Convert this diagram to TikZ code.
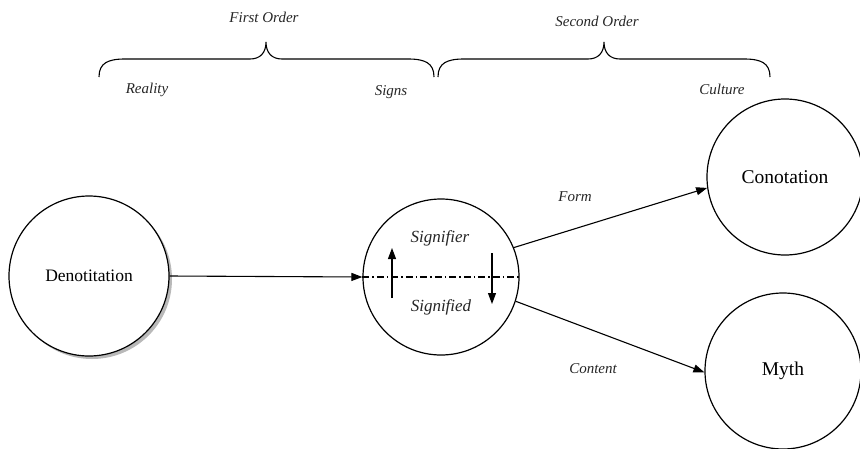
\documentclass[tikz,border=0pt]{standalone}
\usepackage{fontspec}
\setmainfont{Liberation Serif}
\usetikzlibrary{arrows.meta,shadows}

\begin{document}
\begin{tikzpicture}[x=1pt,y=-1pt,
  bigcircle/.style={circle,draw,line width=1.2pt,minimum size=156pt,inner sep=0pt,fill=white},
  lab/.style={font=\fontsize{15}{17}\selectfont\itshape,text=black!85},
  arr/.style={-{Triangle[length=11pt,width=8pt]},line width=1.1pt}]
\useasboundingbox (0,0) rectangle (860,448);
% ORDER LABELS
\node [lab] (first) at (264,17) {First Order};
\node [lab] (second) at (597,21) {Second Order};
\node [lab] (reality) at (147,90) {Reality};
\node [lab] (signs) at (391,92) {Signs};
\node [lab] (culture) at (722,89) {Culture};
% BRACES
\draw [line width=1.1pt] (99,77) .. controls (99,63) and (108,59) .. (125,59) -- (250,59)
  .. controls (260,59) and (266,53) .. (266,42) .. controls (266,53) and (272,59) .. (282,59)
  -- (408,59) .. controls (425,59) and (434,63) .. (434,77);
\draw [line width=1.1pt] (438,77) .. controls (438,63) and (447,59) .. (464,59) -- (588,59)
  .. controls (598,59) and (604,53) .. (604,42) .. controls (604,53) and (610,59) .. (620,59)
  -- (744,59) .. controls (761,59) and (770,63) .. (770,77);
% CIRCLES
\node [bigcircle,minimum size=160pt,font=\fontsize{17.5}{20}\selectfont,
  drop shadow={shadow xshift=3pt,shadow yshift=-3pt,fill=black!55}] (deno) at (89,276) {Denotitation};
\node [bigcircle] (sign) at (441,277) {};
\node [bigcircle,font=\fontsize{19.5}{22}\selectfont] (conn) at (785,177) {Conotation};
\node [bigcircle,font=\fontsize{19.5}{22}\selectfont] (myth) at (783,371) {Myth};
% SIGN PARTS
\node [font=\fontsize{17}{19}\selectfont\itshape,text=black!85] (signifier) at (440,238) {Signifier};
\node [font=\fontsize{17}{19}\selectfont\itshape,text=black!85] (signified) at (441,307) {Signified};
\draw [line width=1.1pt,dash pattern=on 7pt off 3pt on 1.5pt off 3pt] (sign.west) -- (sign.east);
\coordinate (upa) at (392,298);
\coordinate (upb) at (392,248);
\coordinate (downa) at (492,253);
\coordinate (downb) at (492,304);
\draw [arr] (upa) -- (upb);
\draw [arr] (downa) -- (downb);
% CONNECTORS
\draw [arr] (deno.east) -- (sign.west);
\draw [arr] (sign.22) -- (conn.188);
\draw [arr] (sign.-18) -- (myth.181);
\node [lab] (form) at (575,197) {Form};
\node [lab] (content) at (593,369) {Content};
\end{tikzpicture}
\end{document}
